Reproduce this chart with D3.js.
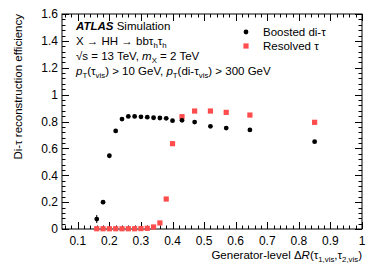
<!DOCTYPE html>
<html>
<head>
<meta charset="utf-8">
<script src="https://cdn.jsdelivr.net/npm/d3@7"></script>
<style>
  body { margin: 0; background: #fff; }
  svg { display: block; font-family: "Liberation Sans", Arial, sans-serif; }
</style>
</head>
<body>
<svg id="chart" width="382" height="274"></svg>
<script>
/** Data **/
var dR = [0.16, 0.18, 0.20, 0.22, 0.24, 0.26, 0.28, 0.30, 0.32, 0.34, 0.36, 0.38, 0.40, 0.43, 0.47, 0.52, 0.57, 0.645, 0.85];
var boosted = [0.074, 0.200, 0.545, 0.730, 0.818, 0.838, 0.838, 0.835, 0.832, 0.828, 0.826, 0.824, 0.806, 0.809, 0.796, 0.764, 0.751, 0.737, 0.650];
var boostedErr = [0.030, 0.015, 0.010, 0.008, 0.006, 0.005, 0.005, 0.005, 0.005, 0.005, 0.005, 0.005, 0.005, 0.005, 0.005, 0.005, 0.005, 0.005, 0.005];
var resolved = [0.002, 0.002, 0.002, 0.002, 0.002, 0.002, 0.002, 0.003, 0.005, 0.015, 0.045, 0.223, 0.635, 0.836, 0.878, 0.878, 0.868, 0.848, 0.794];
var xTicks = [0.1, 0.2, 0.3, 0.4, 0.5, 0.6, 0.7, 0.8, 0.9, 1];
var yTicks = [0, 0.2, 0.4, 0.6, 0.8, 1, 1.2, 1.4, 1.6];
var legendNames = ["Boosted di-\u03c4", "Resolved \u03c4"];

var W = 382, H = 274;
var margin = {left: 62, right: 20, top: 14, bottom: 45};
var width = W - margin.left - margin.right;
var height = H - margin.top - margin.bottom;
var red = "#ff4d4d";

var svg = d3.select("#chart");
var g = svg.append("g").attr("transform", "translate(" + margin.left + "," + margin.top + ")");

/** Scales **/
var x = d3.scaleLinear().domain([0.05, 1]).range([0, width]);
var y = d3.scaleLinear().domain([0, 1.6]).range([height, 0]);

/** Frame **/
g.append("rect").attr("width", width).attr("height", height)
    .attr("fill", "none").attr("stroke", "#000").attr("stroke-width", 1);

/** Ticks (inward, on all four sides) **/
var xMinor = d3.range(0.06, 1.0001, 0.02);
var yMinor = d3.range(0, 1.6001, 0.04);
function isMajor(v, step){ return Math.abs(v / step - Math.round(v / step)) < 1e-6; }

var tk = g.append("g").attr("stroke", "#000").attr("stroke-width", 1);
xMinor.forEach(function(v){
    var len = isMajor(v, 0.1) ? 7 : 3.5;
    var px = Math.round(x(v)) + 0.5;
    tk.append("line").attr("x1", px).attr("x2", px).attr("y1", height).attr("y2", height - len);
    tk.append("line").attr("x1", px).attr("x2", px).attr("y1", 0).attr("y2", len);
});
yMinor.forEach(function(v){
    var len = isMajor(v, 0.2) ? 7 : 3.5;
    var py = Math.round(y(v)) + 0.5;
    tk.append("line").attr("y1", py).attr("y2", py).attr("x1", 0).attr("x2", len);
    tk.append("line").attr("y1", py).attr("y2", py).attr("x1", width).attr("x2", width - len);
});

/** Tick labels **/
g.append("g").selectAll("text").data(xTicks).enter().append("text")
    .attr("x", function(d){ return x(d); })
    .attr("y", height + 16)
    .attr("text-anchor", "middle")
    .style("font-size", "12px")
    .text(d3.format("~g"));
g.append("g").selectAll("text").data(yTicks).enter().append("text")
    .attr("x", -4)
    .attr("y", function(d){ return y(d) + 4.3; })
    .attr("text-anchor", "end")
    .style("font-size", "12px")
    .text(d3.format("~g"));

/** Helper for rich text with subscripts / italics **/
function richText(sel, parts, size){
    var shifted = 0;
    parts.forEach(function(p){
        var t = sel.append("tspan").text(p.t);
        var want = p.sub ? 2.5 : 0;
        if(want !== shifted){ t.attr("dy", want - shifted); shifted = want; }
        if(p.sub) t.style("font-size", (size * 0.68) + "px");
        if(p.it) t.style("font-style", "italic");
        if(p.b) t.style("font-weight", "bold");
    });
}

/** Axis titles **/
var xt = g.append("text").attr("x", width).attr("y", height + 30)
    .attr("text-anchor", "end").style("font-size", "11.5px");
richText(xt, [
    {t: "Generator-level \u0394"}, {t: "R", it: true}, {t: "(\u03c4"}, {t: "1,vis", sub: true},
    {t: ",\u03c4"}, {t: "2,vis", sub: true}, {t: ")"}
], 11.5);

var yt = svg.append("text")
    .attr("transform", "translate(22," + margin.top + ") rotate(-90)")
    .attr("text-anchor", "end").style("font-size", "11.5px")
    .text("Di-\u03c4 reconstruction efficiency");

/** Labels in the top-left **/
var fs = 11.5;
var lx = 14, ly = 16;
var l1 = g.append("text").attr("x", lx).attr("y", ly).style("font-size", fs + "px");
richText(l1, [{t: "ATLAS", b: true, it: true}, {t: " Simulation"}], fs);
var l2 = g.append("text").attr("x", lx).attr("y", ly + 15).style("font-size", fs + "px");
richText(l2, [{t: "X \u2192 HH \u2192 bb\u03c4"}, {t: "h", sub: true}, {t: "\u03c4"}, {t: "h", sub: true}], fs);
var l3 = g.append("text").attr("x", lx).attr("y", ly + 30).style("font-size", fs + "px");
richText(l3, [{t: "\u221as = 13 TeV, "}, {t: "m", it: true}, {t: "X", sub: true}, {t: " = 2 TeV"}], fs);
var l4 = g.append("text").attr("x", lx).attr("y", ly + 45).style("font-size", fs + "px");
richText(l4, [
    {t: "p", it: true}, {t: "T", sub: true}, {t: "(\u03c4"}, {t: "vis", sub: true}, {t: ") > 10 GeV, "},
    {t: "p", it: true}, {t: "T", sub: true}, {t: "(di-\u03c4"}, {t: "vis", sub: true}, {t: ") > 300 GeV"}
], fs);

/** Legend **/
var lg = g.append("g").attr("transform", "translate(184,18)");
lg.append("circle").attr("cx", 0).attr("cy", 0).attr("r", 2.4).attr("fill", "#000");
lg.append("rect").attr("x", -2.6).attr("y", 14 - 2.6).attr("width", 5.2).attr("height", 5.2).attr("fill", red);
lg.selectAll("text").data(legendNames).enter().append("text")
    .attr("x", 17).attr("y", function(d, i){ return i * 14 + 4; })
    .style("font-size", "11.5px")
    .text(function(d){ return d; });

/** Resolved tau: red squares **/
var pts = dR.map(function(d, i){ return {x: d, b: boosted[i], be: boostedErr[i], r: resolved[i]}; });
g.append("g").selectAll("rect").data(pts).enter().append("rect")
    .attr("x", function(d){ return x(d.x) - 2.6; })
    .attr("y", function(d){ return y(d.r) - 2.6; })
    .attr("width", 5.2).attr("height", 5.2)
    .attr("fill", red);

/** Boosted di-tau: black dots with error bars **/
var bg = g.append("g");
bg.selectAll("line").data(pts).enter().append("line")
    .attr("x1", function(d){ return x(d.x); }).attr("x2", function(d){ return x(d.x); })
    .attr("y1", function(d){ return y(d.b - d.be); }).attr("y2", function(d){ return y(d.b + d.be); })
    .attr("stroke", "#000").attr("stroke-width", 1);
bg.selectAll("circle").data(pts).enter().append("circle")
    .attr("cx", function(d){ return x(d.x); })
    .attr("cy", function(d){ return y(d.b); })
    .attr("r", 2.4)
    .attr("fill", "#000");
</script>
</body>
</html>
